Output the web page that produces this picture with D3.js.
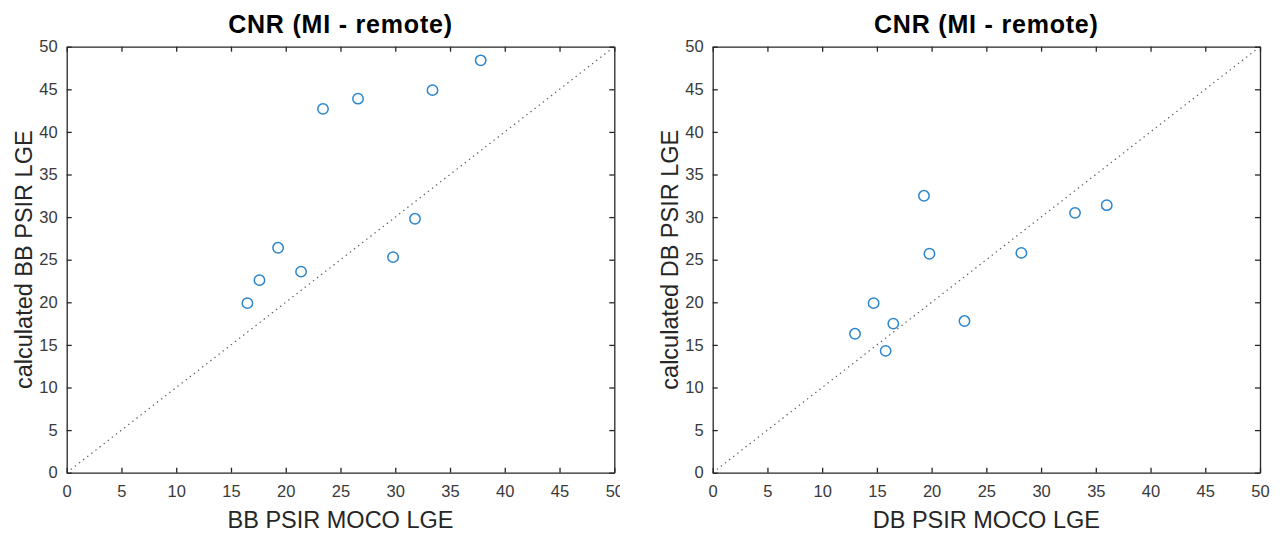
<!DOCTYPE html>
<html>
<head>
<meta charset="utf-8">
<script src="https://cdn.jsdelivr.net/npm/d3@7"></script>
<style>
  body { margin: 0; background: #fff; }
  svg { display: block; font-family: "Liberation Sans", Arial, sans-serif; }
</style>
</head>
<body>
<script>
// values
var bbMoco = [16.5, 17.6, 19.3, 21.4, 23.4, 26.6, 29.8, 31.8, 33.4, 37.8];
var bbCalc = [19.9, 22.6, 26.4, 23.6, 42.7, 43.9, 25.3, 29.8, 44.9, 48.4];

var dbMoco = [13.0, 14.7, 15.8, 16.5, 19.3, 19.8, 23.0, 28.2, 33.1, 36.0];
var dbCalc = [16.3, 19.9, 14.3, 17.5, 32.5, 25.7, 17.8, 25.8, 30.5, 31.4];

var ticks = [0, 5, 10, 15, 20, 25, 30, 35, 40, 45, 50];
var title = "CNR (MI - remote)";

var W = 1280, H = 544;
var yTop = 46.7, yBottom = 472.7;
var font = "'Liberation Sans', Arial, sans-serif";

var svg = d3.select("body").append("svg")
    .attr("width", W)
    .attr("height", H);

// the left figure is cut just past its last x tick label
svg.append("defs").append("clipPath")
    .attr("id", "leftClip")
  .append("rect")
    .attr("x", 0).attr("y", 0)
    .attr("width", 620).attr("height", H);

function drawPanel(g, left, right, xs, ys, xLabel, yLabel) {
    var x = d3.scaleLinear().domain([0, 50]).range([left, right]);
    var y = d3.scaleLinear().domain([0, 50]).range([yBottom, yTop]);

    // identity line
    g.append("line")
        .attr("x1", x(0)).attr("y1", y(0))
        .attr("x2", x(50)).attr("y2", y(50))
        .attr("stroke", "#5e5e5e")
        .attr("stroke-width", 1.2)
        .attr("stroke-dasharray", "1.4,3.8");

    // box with inward ticks on all sides
    var xb = g.append("g").attr("transform", "translate(0," + yBottom + ")")
        .call(d3.axisBottom(x).tickValues(ticks).tickSizeInner(-5).tickSizeOuter(0).tickPadding(12.5));
    var xt = g.append("g").attr("transform", "translate(0," + yTop + ")")
        .call(d3.axisTop(x).tickValues(ticks).tickSizeInner(-5).tickSizeOuter(0).tickFormat(""));
    var yl = g.append("g").attr("transform", "translate(" + left + ",0)")
        .call(d3.axisLeft(y).tickValues(ticks).tickSizeInner(-5).tickSizeOuter(0).tickPadding(9));
    var yr = g.append("g").attr("transform", "translate(" + right + ",0)")
        .call(d3.axisRight(y).tickValues(ticks).tickSizeInner(-5).tickSizeOuter(0).tickFormat(""));

    [xb, xt, yl, yr].forEach(function(a) {
        a.attr("font-family", font).attr("font-size", 16.5);
        a.select(".domain").attr("stroke", "#262626").attr("stroke-width", 1.3);
        a.selectAll(".tick line").attr("stroke", "#262626").attr("stroke-width", 1.3);
        a.selectAll(".tick text").attr("fill", "#3a3a3a");
    });

    // points
    g.append("g").selectAll("circle")
        .data(xs.map(function(d, i) { return [d, ys[i]]; }))
        .enter().append("circle")
        .attr("cx", function(d) { return x(d[0]); })
        .attr("cy", function(d) { return y(d[1]); })
        .attr("r", 5.2)
        .attr("fill", "none")
        .attr("stroke", "#2a86cf")
        .attr("stroke-width", 1.5);

    var cx = (left + right) / 2;

    g.append("text")
        .attr("x", cx).attr("y", 33)
        .attr("text-anchor", "middle")
        .attr("font-family", font)
        .attr("font-size", 25)
        .attr("font-weight", "bold")
        .style("letter-spacing", "0.8px")
        .attr("fill", "#000")
        .text(title);

    g.append("text")
        .attr("x", cx).attr("y", 528)
        .attr("text-anchor", "middle")
        .attr("font-family", font)
        .attr("font-size", 23.5)
        .attr("fill", "#262626")
        .text(xLabel);

    g.append("text")
        .attr("transform", "translate(" + (left - 34.7) + "," + ((yTop + yBottom) / 2) + ") rotate(-90)")
        .attr("text-anchor", "middle")
        .attr("font-family", font)
        .attr("font-size", 23.5)
        .attr("fill", "#262626")
        .text(yLabel);
}

var gLeft = svg.append("g").attr("clip-path", "url(#leftClip)");
drawPanel(gLeft, 66.7, 614.3, bbMoco, bbCalc, "BB PSIR MOCO LGE", "calculated BB PSIR LGE");

var gRight = svg.append("g");
drawPanel(gRight, 712.7, 1260, dbMoco, dbCalc, "DB PSIR MOCO LGE", "calculated DB PSIR LGE");
</script>
</body>
</html>
